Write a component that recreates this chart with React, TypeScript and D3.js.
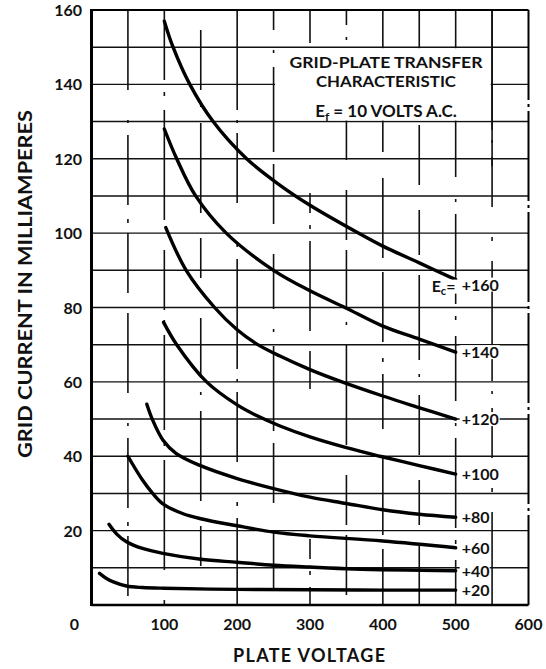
import React from 'react';
import * as d3 from 'd3';

// Grid-plate transfer characteristic, Ef = 10 V A.C.
// each Ec curve: plate voltage (V) vs grid current (mA)
const ec160V = [100, 112, 135, 167, 213, 258, 300, 362, 400, 450, 500];
const ec160I = [157, 150, 140, 130, 120, 113, 107.5, 100.5, 96.5, 92, 87.5];
const ec140V = [100, 117, 143, 185, 250, 300, 348, 400, 450, 500];
const ec140I = [128, 120, 110, 100, 90, 84.5, 80, 75, 71.5, 68];
const ec120V = [102, 130, 169, 200, 226, 258, 300, 341, 400, 446, 500];
const ec120I = [101.5, 90, 80, 74, 70.3, 67, 63.3, 60.2, 56.2, 53.3, 50];
const ec100V = [99, 117, 158, 200, 226, 258, 300, 350, 396, 450, 500];
const ec100I = [76, 70, 60, 53.8, 51, 48.2, 45.2, 42.3, 40, 37.5, 35.2];
const ec80V = [76, 84, 98, 116, 148, 200, 250, 300, 350, 400, 450, 500];
const ec80I = [54, 49.7, 44.4, 40.8, 37.6, 34, 31.3, 29, 27.3, 25.6, 24.4, 23.6];
const ec60V = [50, 70, 84, 98, 125, 150, 200, 250, 300, 400, 500];
const ec60I = [40, 33.6, 30, 27.2, 24.6, 23.2, 21.3, 19.6, 18.6, 17.2, 15.4];
const ec40V = [24, 35, 48, 70, 98, 150, 200, 250, 300, 360, 500];
const ec40I = [21.7, 19, 17, 15.2, 13.9, 12.3, 11.5, 10.7, 10.2, 9.7, 9.2];
const ec20V = [11, 20, 30, 48, 70, 100, 200, 300, 400, 500];
const ec20I = [8.5, 7.2, 6.2, 5.1, 4.7, 4.5, 4.2, 4.1, 4.0, 4.0];

const curveLabels = ['+160', '+140', '+120', '+100', '+80', '+60', '+40', '+20'];
const curveV = [ec160V, ec140V, ec120V, ec100V, ec80V, ec60V, ec40V, ec20V];
const curveI = [ec160I, ec140I, ec120I, ec100I, ec80I, ec60I, ec40I, ec20I];

const xTickValues = [0, 100, 200, 300, 400, 500, 600];
const yTickValues = [20, 40, 60, 80, 100, 120, 140, 160];
const gridCurrent = [10, 20, 30, 40, 50, 60, 70, 80, 90, 100, 110, 120, 130, 140, 150];
const gridVoltage = [50, 100, 150, 200, 250, 300, 350, 400, 450, 500, 550];

const W = 546;
const H = 669;
const FONT = "Lato, 'DejaVu Sans', sans-serif";

// the old drafting grid has broken vertical rules: dash/gap runs per line (px)
const vRuns = [
  [80, 30, 3, 12, 70, 14, 4, 10, 60, 20],
  [95, 12, 4, 14, 110, 30, 60, 10, 3, 12],
  [40, 40, 60, 14, 3, 16, 90, 25],
  [110, 10, 3, 10, 70, 40, 4, 12],
  [55, 20, 3, 14, 85, 12, 60, 30],
  [38, 150, 20, 12, 4, 12, 90, 20],
  [60, 12, 3, 20, 100, 30, 50, 10],
  [70, 16, 4, 12, 55, 26, 80, 14],
  [45, 20, 85, 14, 3, 18, 60, 25],
  [90, 12, 4, 16, 65, 22, 3, 12],
  [120, 10, 3, 14, 50, 30, 4, 20],
];
const vStart = [0, 25, 60, 10, 35, 5, 45, 15, 70, 20, 0];

function segments(total: number, runs: number[], start: number) {
  const out: [number, number][] = [];
  let pos = -start;
  let k = 0;
  while (pos < total) {
    const len = runs[k % runs.length];
    if (k % 2 === 0) {
      const a = Math.max(0, pos);
      const b = Math.min(total, pos + len);
      if (b > a) out.push([a, b]);
    }
    pos += len;
    k++;
  }
  return out;
}

export default function App() {
  const x = d3.scaleLinear().domain([0, 600]).range([91.5, 528.5]);
  const y = d3.scaleLinear().domain([0, 160]).range([605, 10]);

  const line = d3
    .line<[number, number]>()
    .x((d) => x(d[0]))
    .y((d) => y(d[1]))
    .curve(d3.curveCatmullRom.alpha(0.5));

  const [x0, x1] = x.range();
  const [y0, y1] = y.range();

  // text box upper right
  const boxLeft = x(252);
  const boxRight = x(548);
  const boxTop = y(150) + 1;
  const boxBottom = y(130) - 1;
  const boxCx = 386;

  return (
    <svg
      width={W}
      height={H}
      style={{ position: 'absolute', left: 0, top: 0, background: '#fff' }}
      fontFamily={FONT}
    >
      <rect width={W} height={H} fill="#fff" />

      {/* horizontal rules */}
      {gridCurrent.map((c) => (
        <line key={'h' + c} x1={x0} x2={x1} y1={y(c)} y2={y(c)} stroke="#111" strokeWidth={1.4} />
      ))}

      {/* vertical broken rules */}
      {gridVoltage.map((v, i) =>
        segments(y0 - y1, vRuns[i], vStart[i]).map(([a, b], j) => (
          <line
            key={'v' + v + '-' + j}
            x1={x(v)}
            x2={x(v)}
            y1={y1 + a}
            y2={y1 + b}
            stroke="#111"
            strokeWidth={1.6}
          />
        ))
      )}

      {/* title box */}
      <rect x={boxLeft} y={boxTop} width={boxRight - boxLeft} height={boxBottom - boxTop} fill="#fff" />
      <line x1={x(550)} x2={x(550)} y1={y1} y2={y(118)} stroke="#111" strokeWidth={1.6} />
      <g fontWeight={700} fontSize={16} fill="#111" textAnchor="middle">
        <text x={boxCx} y={68} textLength={193} lengthAdjust="spacingAndGlyphs">GRID-PLATE TRANSFER</text>
        <text x={boxCx} y={87} textLength={140} lengthAdjust="spacingAndGlyphs">CHARACTERISTIC</text>
        <text x={boxCx} y={117} fontSize={17}>
          E<tspan fontSize={12} dy={4}>f</tspan>
          <tspan dy={-4}> = 10 VOLTS A.C.</tspan>
        </text>
      </g>

      {/* curves */}
      {curveV.map((vs, k) => (
        <path
          key={'c' + k}
          d={line(vs.map((v, j) => [v, curveI[k][j]] as [number, number])) || ''}
          fill="none"
          stroke="#000"
          strokeWidth={3.4}
          strokeLinecap="round"
        />
      ))}

      {/* curve labels */}
      <g fontWeight={700} fontSize={16} fill="#111">
        {curveLabels.map((lab, k) => {
          const vs = curveV[k];
          const is = curveI[k];
          const ly = y(is[is.length - 1]) + (k === 0 ? 5 : 0);
          const lx = x(vs[vs.length - 1]) + 6;
          return (
            <g key={'l' + k}>
              <rect x={lx - 2} y={ly - 7} width={k === 0 ? 42 : lab.length * 10} height={14} fill="#fff" />
              <text x={lx} y={ly + 6}>{lab}</text>
              {k === 0 && (
                <>
                  <rect x={lx - 31} y={ly - 5} width={27} height={14} fill="#fff" />
                  <text x={lx - 30} y={ly + 7}>
                    E<tspan fontSize={11} dy={3}>c</tspan>
                    <tspan dy={-3}>=</tspan>
                  </text>
                </>
              )}
            </g>
          );
        })}
      </g>

      {/* frame */}
      <line x1={x0} x2={x0} y1={y1 - 1} y2={y0 + 1} stroke="#000" strokeWidth={3} />
      <line x1={x0} x2={x1} y1={y1} y2={y1} stroke="#000" strokeWidth={2.2} />
      <line x1={x1} x2={x1} y1={y1} y2={y0} stroke="#000" strokeWidth={2} strokeDasharray="90 4 3 4" />
      <line x1={x0} x2={x1} y1={y0} y2={y0} stroke="#000" strokeWidth={2.4} />

      {/* y ticks */}
      <g fontWeight={700} fontSize={16} fill="#111" textAnchor="end">
        {yTickValues.map((t) => (
          <text key={'yt' + t} x={82} y={y(t) + 6}>{t}</text>
        ))}
      </g>

      {/* x ticks */}
      <g fontWeight={700} fontSize={16} fill="#111" textAnchor="middle">
        {xTickValues.map((t) => (
          <text key={'xt' + t} x={t === 0 ? x(t) - 17 : x(t)} y={630}>{t}</text>
        ))}
      </g>

      {/* axis titles */}
      <text
        x={309}
        y={662}
        textAnchor="middle"
        fontWeight={700}
        fontSize={18}
        fill="#111"
        textLength={152}
        lengthAdjust="spacing"
      >
        PLATE VOLTAGE
      </text>
      <text
        transform={`translate(32,284) rotate(-90)`}
        textAnchor="middle"
        fontWeight={700}
        fontSize={19}
        fill="#111"
        textLength={348}
        lengthAdjust="spacingAndGlyphs"
      >
        GRID CURRENT IN MILLIAMPERES
      </text>
    </svg>
  );
}
